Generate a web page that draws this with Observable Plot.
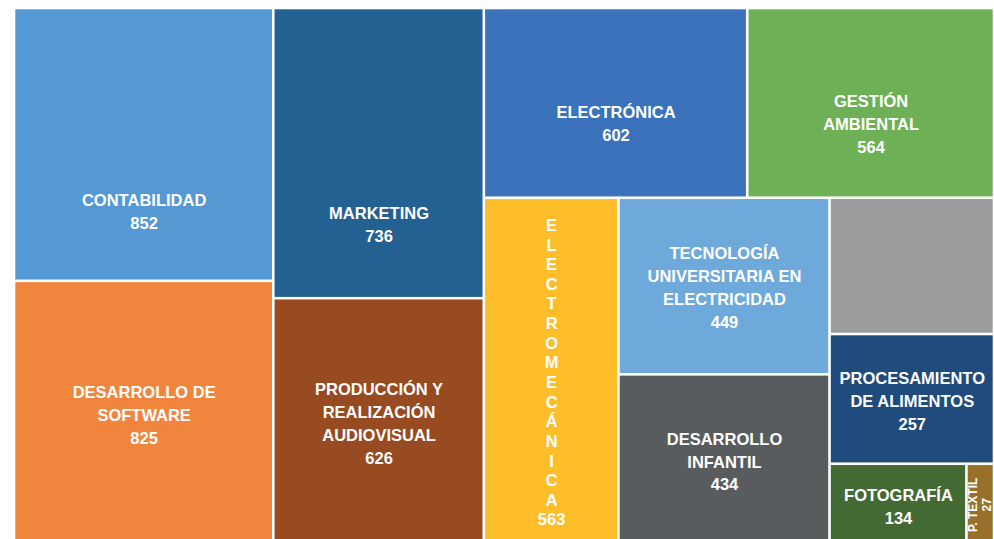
<!DOCTYPE html>
<html>
<head>
<meta charset="utf-8">
<script src="https://cdn.jsdelivr.net/npm/d3@7"></script>
<script src="https://cdn.jsdelivr.net/npm/@observablehq/plot@0.6"></script>
<style>
  html, body { margin: 0; padding: 0; background: #ffffff; }
  #chart { width: 994px; height: 539px; overflow: hidden; position: relative; }
  #chart svg { display: block; }
</style>
</head>
<body>
<div id="chart"></div>
<script>
// Categories (programs), shown with the line breaks of the reference
const categories = [
  "CONTABILIDAD",
  "DESARROLLO DE\nSOFTWARE",
  "MARKETING",
  "PRODUCCIÓN Y\nREALIZACIÓN\nAUDIOVISUAL",
  "ELECTRÓNICA",
  "GESTIÓN\nAMBIENTAL",
  "ELECTROMECÁNICA",
  "TECNOLOGÍA\nUNIVERSITARIA EN\nELECTRICIDAD",
  "DESARROLLO\nINFANTIL",
  "",
  "PROCESAMIENTO\nDE ALIMENTOS",
  "FOTOGRAFÍA",
  "P. TEXTIL"
];
// Values (the unlabeled grey cell is estimated from its area)
const values = [852, 825, 736, 626, 602, 564, 563, 449, 434, 270, 257, 134, 27];
// Whether the value is printed
const showValue = [true, true, true, true, true, true, true, true, true, false, true, true, true];
// Fill colours
const colors = [
  "#5499D4", "#F2853D", "#246193", "#984A20", "#3A73BC", "#6DB055",
  "#FDBE29", "#6DA9DA", "#595C5F", "#9A9C9E", "#1F4B7D", "#436A32", "#98702A"
];
// Nesting of the treemap groups (category indices)
const nesting = [[0, 1], [2, 3], [[4, 5], [6, [7, 8], [9, 10, [11, 12]]]]];

const W = 990, H = 537;

function toNode(n) {
  return Array.isArray(n) ? {children: n.map(toNode)} : {i: n};
}
const root = d3.hierarchy(toNode(nesting)).sum(d => d.i != null ? values[d.i] : 0);
d3.treemap().tile(d3.treemapSliceDice).size([W, H]).round(false)(root);

const cells = root.leaves().map(l => ({
  i: l.data.i,
  name: categories[l.data.i],
  value: values[l.data.i],
  color: colors[l.data.i],
  x0: l.x0, x1: l.x1, y0: l.y0, y1: l.y1
}));

function label(c) {
  return c.name + (showValue[c.i] ? "\n" + c.value : "");
}
// vertical anchor: tall cells on the top edge carry their label low
function labelY(c) {
  const h = c.y1 - c.y0;
  const f = (c.y0 < 1 && h > 250) ? 0.74 : (c.y0 < 1 ? 0.6 : 0.5);
  return c.y0 + f * h;
}
const cw = c => c.x1 - c.x0, ch = c => c.y1 - c.y0;
const stacked = cells.filter(c => c.name && cw(c) >= 60 && cw(c) < 150 && ch(c) > 2 * cw(c));
const rotated = cells.filter(c => c.name && cw(c) < 60);
const normal = cells.filter(c => c.name && !stacked.includes(c) && !rotated.includes(c));

const font = "'Liberation Sans', Arial, Helvetica, sans-serif";

const plot = Plot.plot({
  width: 994,
  height: 539,
  margin: 0,
  style: {background: "#ffffff", fontFamily: font},
  x: {domain: [0, W], range: [14, 994], axis: null},
  y: {domain: [0, H], range: [8, 545], axis: null},
  color: {type: "identity"},
  marks: [
    Plot.rect(cells, {x1: "x0", x2: "x1", y1: "y0", y2: "y1", fill: "color", inset: 1.3}),
    Plot.text(normal, {
      x: c => (c.x0 + c.x1) / 2,
      y: labelY,
      text: label,
      fill: "white",
      fontSize: 16.5,
      fontWeight: "bold",
      lineHeight: 1.39,
      fontFamily: font
    }),
    Plot.text(stacked, {
      x: c => (c.x0 + c.x1) / 2,
      y: labelY,
      text: c => c.name.split("").join("\n") + (showValue[c.i] ? "\n" + c.value : ""),
      fill: "white",
      fontSize: 16.5,
      fontWeight: "bold",
      lineHeight: 1.19,
      fontFamily: font
    }),
    Plot.text(rotated, {
      x: c => (c.x0 + c.x1) / 2 - 1,
      y: labelY,
      text: label,
      rotate: -90,
      fill: "white",
      fontSize: 12,
      fontWeight: "bold",
      lineHeight: 1.1,
      fontFamily: font
    })
  ]
});
document.getElementById("chart").appendChild(plot);
</script>
</body>
</html>
